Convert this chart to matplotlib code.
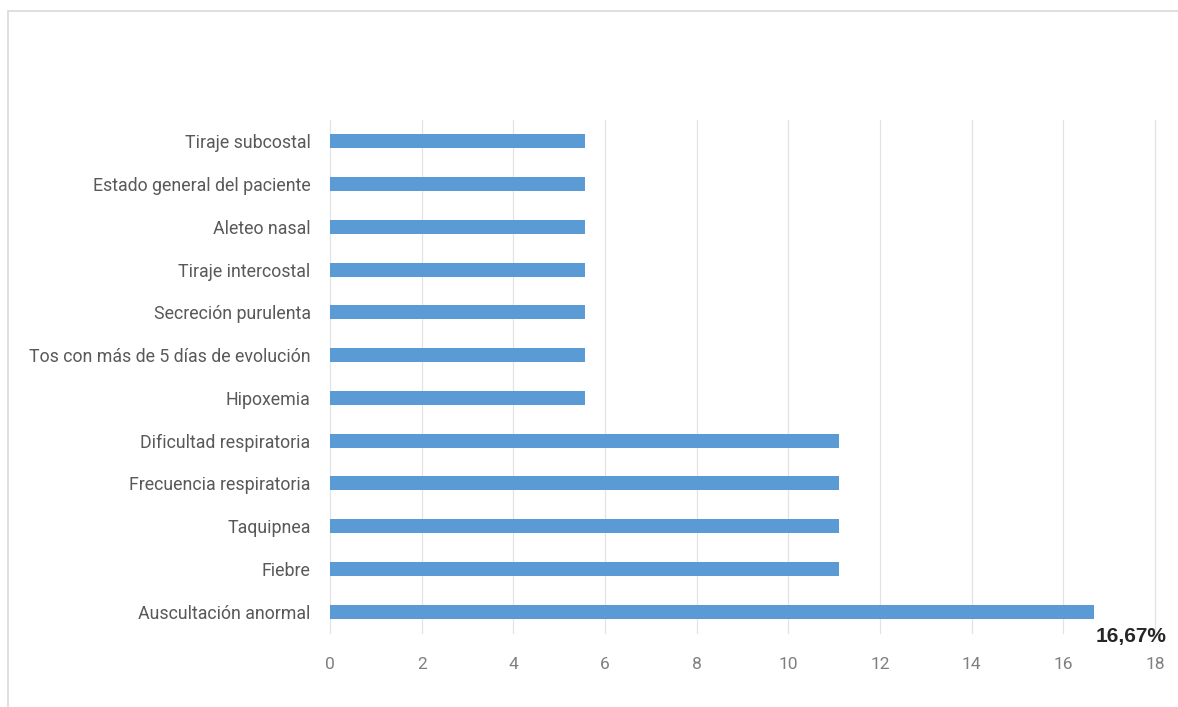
import matplotlib
matplotlib.use("Agg")
import matplotlib.pyplot as plt
from matplotlib.patches import Rectangle

# ── Data ──────────────────────────────────────────────────────────────────────
signos = [
    "Auscultación anormal",
    "Fiebre",
    "Taquipnea",
    "Frecuencia respiratoria",
    "Dificultad respiratoria",
    "Hipoxemia",
    "Tos con más de 5 días de evolución",
    "Secreción purulenta",
    "Tiraje intercostal",
    "Aleteo nasal",
    "Estado general del paciente",
    "Tiraje subcostal",
]
porcentajes = [16.67, 11.11, 11.11, 11.11, 11.11,
               5.56, 5.56, 5.56, 5.56, 5.56, 5.56, 5.56]
xticks = [0, 2, 4, 6, 8, 10, 12, 14, 16, 18]
etiqueta_max = "16,67%"

plt.rcParams["font.family"] = ["Roboto", "DejaVu Sans"]

fig = plt.figure(figsize=(11.78, 7.07), dpi=100)
ax = fig.add_axes([0.2801, 0.1047, 0.7004, 0.7256])

# outer chart frame
fig.patches.append(Rectangle((8 / 1178, -0.02), 1.02, 1 - 11 / 707 + 0.02,
                             transform=fig.transFigure, fill=False,
                             edgecolor="#D9D9D9", linewidth=1.2))

y = list(range(len(signos)))
ax.barh(y, porcentajes, height=0.33, color="#5B9BD5", zorder=3)

ax.set_xlim(0, 18)
ax.set_ylim(-0.5, len(signos) - 0.5)
ax.set_xticks(xticks)
ax.set_xticklabels([str(t) for t in xticks])
ax.set_yticks(y)
ax.set_yticklabels(signos)

ax.grid(axis="x", color="#E3E3E3", linewidth=0.9, zorder=0)
for gl in ax.get_xgridlines():
    gl.set_clip_on(False)
for s in ax.spines.values():
    s.set_visible(False)
ax.tick_params(axis="x", length=0, colors="#7F7F7F", labelsize=12.5, pad=17)
ax.tick_params(axis="y", length=0, colors="#595959", labelsize=12.8, pad=14)

# value label for the largest bar
ax.annotate(etiqueta_max, xy=(porcentajes[0], 0), xytext=(1, -11),
            textcoords="offset points", ha="left", va="top",
            fontsize=15, fontweight="bold", color="#262626",
            family=["Liberation Sans", "DejaVu Sans"])

fig.savefig("out.png", dpi=100)
